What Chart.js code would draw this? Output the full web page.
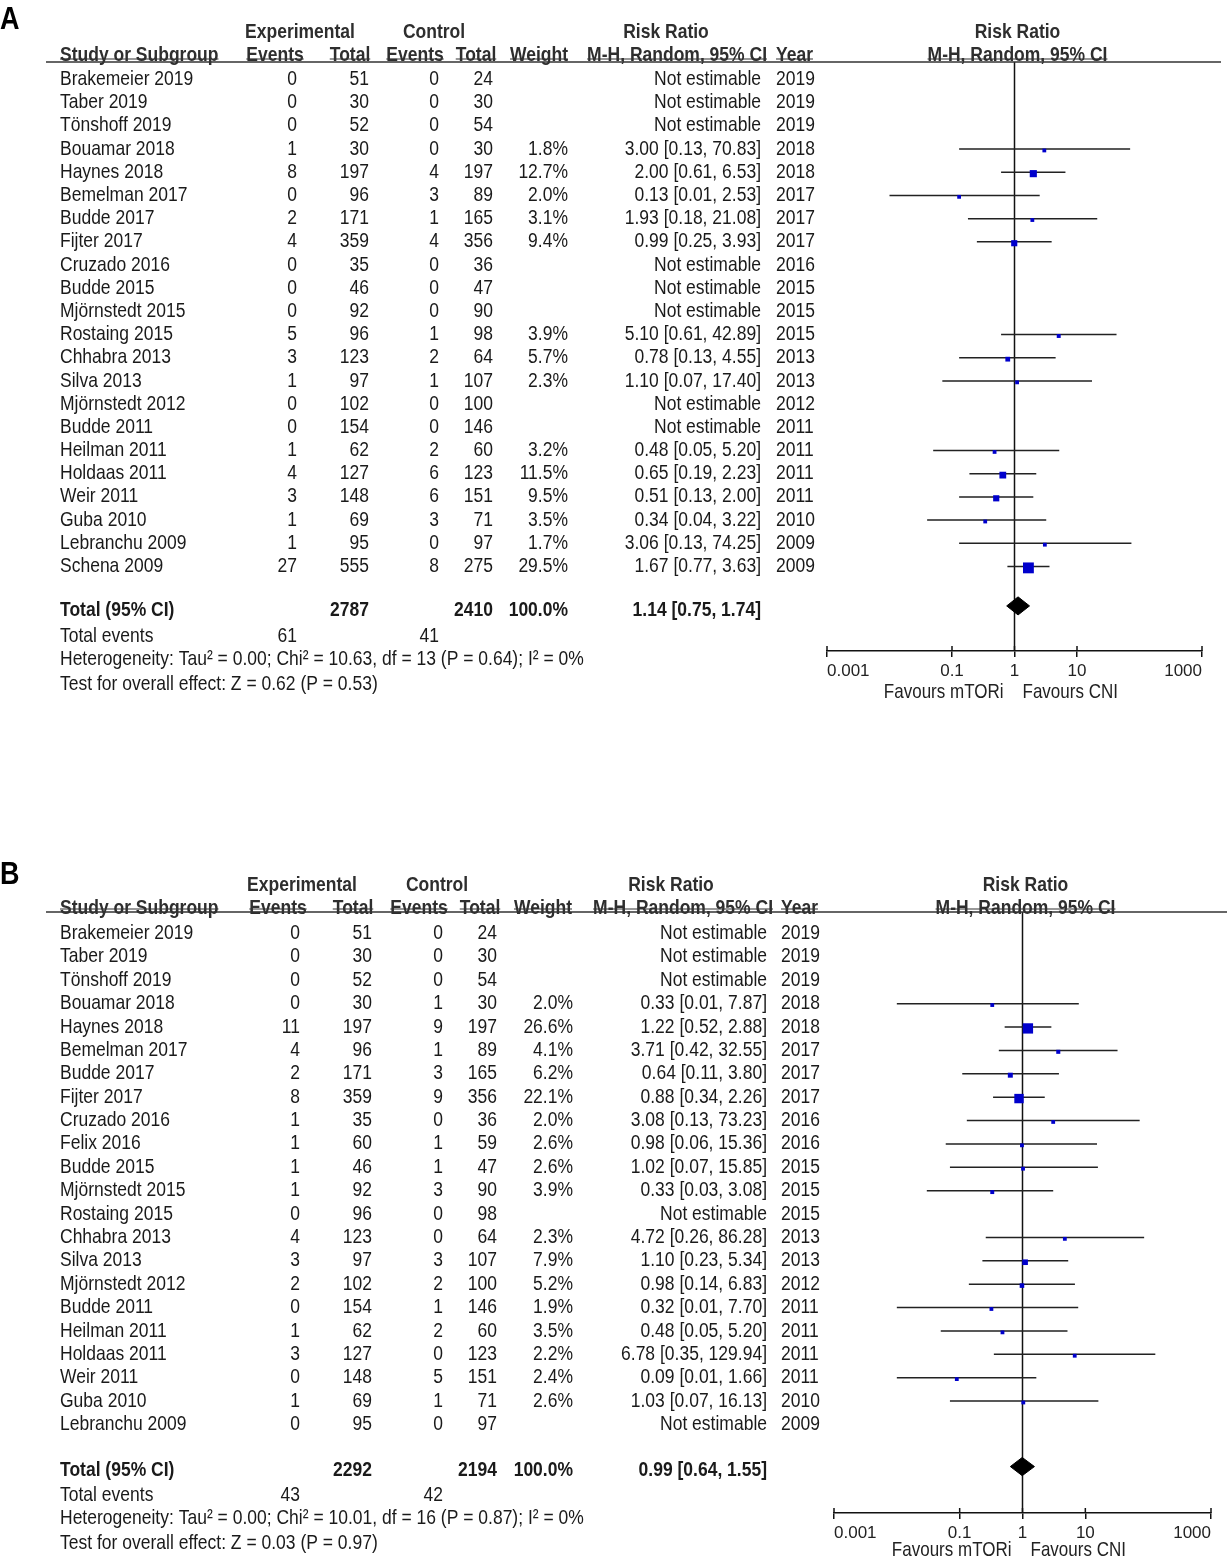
<!DOCTYPE html>
<html>
<head>
<meta charset="utf-8">
<script src="https://cdn.jsdelivr.net/npm/chart.js@4.4.0/dist/chart.umd.min.js"></script>
<style>
  html, body { margin: 0; padding: 0; background: #fff; }
  body { width: 1227px; height: 1558px; position: relative; overflow: hidden; }
  canvas { position: absolute; left: 0; }
  #chartA { top: 0; }
  #chartB { top: 860px; }
</style>
</head>
<body>
<canvas id="chartA" width="1227" height="860"></canvas>
<canvas id="chartB" width="1227" height="698"></canvas>
<script>
// ---- panel A data ----
const studiesA = ['Brakemeier 2019', 'Taber 2019', 'Tönshoff 2019', 'Bouamar 2018', 'Haynes 2018', 'Bemelman 2017',
  'Budde 2017', 'Fijter 2017', 'Cruzado 2016', 'Budde 2015', 'Mjörnstedt 2015', 'Rostaing 2015', 'Chhabra 2013',
  'Silva 2013', 'Mjörnstedt 2012', 'Budde 2011', 'Heilman 2011', 'Holdaas 2011', 'Weir 2011', 'Guba 2010',
  'Lebranchu 2009', 'Schena 2009'];
const expEventsA = [0, 0, 0, 1, 8, 0, 2, 4, 0, 0, 0, 5, 3, 1, 0, 0, 1, 4, 3, 1, 1, 27];
const expTotalA = [51, 30, 52, 30, 197, 96, 171, 359, 35, 46, 92, 96, 123, 97, 102, 154, 62, 127, 148, 69, 95, 555];
const ctlEventsA = [0, 0, 0, 0, 4, 3, 1, 4, 0, 0, 0, 1, 2, 1, 0, 0, 2, 6, 6, 3, 0, 8];
const ctlTotalA = [24, 30, 54, 30, 197, 89, 165, 356, 36, 47, 90, 98, 64, 107, 100, 146, 60, 123, 151, 71, 97, 275];
const weightA = [null, null, null, 1.8, 12.7, 2.0, 3.1, 9.4, null, null, null, 3.9, 5.7, 2.3, null, null, 3.2, 11.5, 9.5, 3.5, 1.7, 29.5];
const rrA = [null, null, null, 3.00, 2.00, 0.13, 1.93, 0.99, null, null, null, 5.10, 0.78, 1.10, null, null, 0.48, 0.65, 0.51, 0.34, 3.06, 1.67];
const loA = [null, null, null, 0.13, 0.61, 0.01, 0.18, 0.25, null, null, null, 0.61, 0.13, 0.07, null, null, 0.05, 0.19, 0.13, 0.04, 0.13, 0.77];
const hiA = [null, null, null, 70.83, 6.53, 2.53, 21.08, 3.93, null, null, null, 42.89, 4.55, 17.40, null, null, 5.20, 2.23, 2.00, 3.22, 74.25, 3.63];
const yearA = [2019, 2019, 2019, 2018, 2018, 2017, 2017, 2017, 2016, 2015, 2015, 2015, 2013, 2013, 2012, 2011, 2011, 2011, 2011, 2010, 2009, 2009];
const totalsA = [2787, 2410];
const totalEventsA = [61, 41];
const pooledA = [1.14, 0.75, 1.74];
const hetA = 'Heterogeneity: Tau² = 0.00; Chi² = 10.63, df = 13 (P = 0.64); I² = 0%';
const effectA = 'Test for overall effect: Z = 0.62 (P = 0.53)';

// ---- panel B data ----
const studiesB = ['Brakemeier 2019', 'Taber 2019', 'Tönshoff 2019', 'Bouamar 2018', 'Haynes 2018', 'Bemelman 2017',
  'Budde 2017', 'Fijter 2017', 'Cruzado 2016', 'Felix 2016', 'Budde 2015', 'Mjörnstedt 2015', 'Rostaing 2015',
  'Chhabra 2013', 'Silva 2013', 'Mjörnstedt 2012', 'Budde 2011', 'Heilman 2011', 'Holdaas 2011', 'Weir 2011',
  'Guba 2010', 'Lebranchu 2009'];
const expEventsB = [0, 0, 0, 0, 11, 4, 2, 8, 1, 1, 1, 1, 0, 4, 3, 2, 0, 1, 3, 0, 1, 0];
const expTotalB = [51, 30, 52, 30, 197, 96, 171, 359, 35, 60, 46, 92, 96, 123, 97, 102, 154, 62, 127, 148, 69, 95];
const ctlEventsB = [0, 0, 0, 1, 9, 1, 3, 9, 0, 1, 1, 3, 0, 0, 3, 2, 1, 2, 0, 5, 1, 0];
const ctlTotalB = [24, 30, 54, 30, 197, 89, 165, 356, 36, 59, 47, 90, 98, 64, 107, 100, 146, 60, 123, 151, 71, 97];
const weightB = [null, null, null, 2.0, 26.6, 4.1, 6.2, 22.1, 2.0, 2.6, 2.6, 3.9, null, 2.3, 7.9, 5.2, 1.9, 3.5, 2.2, 2.4, 2.6, null];
const rrB = [null, null, null, 0.33, 1.22, 3.71, 0.64, 0.88, 3.08, 0.98, 1.02, 0.33, null, 4.72, 1.10, 0.98, 0.32, 0.48, 6.78, 0.09, 1.03, null];
const loB = [null, null, null, 0.01, 0.52, 0.42, 0.11, 0.34, 0.13, 0.06, 0.07, 0.03, null, 0.26, 0.23, 0.14, 0.01, 0.05, 0.35, 0.01, 0.07, null];
const hiB = [null, null, null, 7.87, 2.88, 32.55, 3.80, 2.26, 73.23, 15.36, 15.85, 3.08, null, 86.28, 5.34, 6.83, 7.70, 5.20, 129.94, 1.66, 16.13, null];
const yearB = [2019, 2019, 2019, 2018, 2018, 2017, 2017, 2017, 2016, 2016, 2015, 2015, 2015, 2013, 2013, 2012, 2011, 2011, 2011, 2011, 2010, 2009];
const totalsB = [2292, 2194];
const totalEventsB = [43, 42];
const pooledB = [0.99, 0.64, 1.55];
const hetB = 'Heterogeneity: Tau² = 0.00; Chi² = 10.01, df = 16 (P = 0.87); I² = 0%';
const effectB = 'Test for overall effect: Z = 0.03 (P = 0.97)';

const xTicks = [0.001, 0.1, 1, 10, 1000];

const FONT = '"Liberation Sans", Arial, Helvetica, sans-serif';
const FONT_SIZE = 17.5;
const STRETCH = 1.15;   // text in the figure is a bit taller than Arial
const BLUE = '#0000cc';

function fmtRR(v, lo, hi) {
  if (v === null) return 'Not estimable';
  return v.toFixed(2) + ' [' + lo.toFixed(2) + ', ' + hi.toFixed(2) + ']';
}

function buildPanel(p) {
  const n = p.studies.length;
  const ciData = [];
  const sqData = [];
  const sqRadius = [];
  for (let i = 0; i < n; i++) {
    if (p.rr[i] === null) continue;
    ciData.push({ x: p.lo[i], y: i }, { x: p.hi[i], y: i }, { x: p.hi[i], y: null });
    sqData.push({ x: p.rr[i], y: i + 0.06 });
    // square area follows the study weight
    const side = Math.max(3.8, 2.0 * Math.sqrt(p.weight[i]));
    sqRadius.push(side / Math.SQRT2);
  }
  const L = p.layout;
  const dh = 0.39;
  const dRow = L.diamondRow;
  const diamond = [
    { x: p.pooled[1], y: dRow }, { x: p.pooled[0], y: dRow - dh },
    { x: p.pooled[2], y: dRow }, { x: p.pooled[0], y: dRow + dh },
    { x: p.pooled[1], y: dRow }
  ];

  const c = p.cols;
  const decor = {
    id: 'forest' + p.name,
    beforeDatasetsDraw(chart) {
      const { ctx, chartArea, scales: { x } } = chart;
      const x1 = x.getPixelForValue(1);
      ctx.save();
      ctx.strokeStyle = '#111';
      ctx.lineWidth = 1.5;
      ctx.beginPath();
      ctx.moveTo(x1, chartArea.top);
      ctx.lineTo(x1, chartArea.bottom);
      ctx.stroke();
      ctx.restore();
    },
    afterDraw(chart) {
      const { ctx, chartArea, scales: { x, y } } = chart;
      const put = (str, px, row, align, bold, color, size) => {
        const py = typeof row === 'number' ? y.getPixelForValue(row) : row.px;
        ctx.save();
        ctx.font = (bold ? 'bold ' : '') + (size || FONT_SIZE) + 'px ' + FONT;
        const w = ctx.measureText(str).width;
        ctx.translate(px, py);
        ctx.scale(1, STRETCH);
        ctx.fillStyle = color || '#1a1a1a';
        ctx.textAlign = align;
        ctx.textBaseline = 'middle';
        ctx.fillText(str, 0, 0);
        ctx.restore();
        return w;
      };
      const HEAD = '#2e2e2e';
      const underline = (x0, w) => {
        ctx.save();
        ctx.strokeStyle = '#333';
        ctx.lineWidth = 1.2;
        ctx.beginPath();
        ctx.moveTo(x0, chartArea.top - 3);
        ctx.lineTo(x0 + w, chartArea.top - 3);
        ctx.stroke();
        ctx.restore();
      };

      // panel letter
      put(p.name, 0, L.labelRow, 'left', true, '#000', 27);

      // header
      const h1 = L.head1, h2 = L.head2;
      put('Experimental', c.hExp, h1, 'center', true, HEAD);
      put('Control', c.hCtl, h1, 'center', true, HEAD);
      put('Risk Ratio', c.hRR, h1, 'center', true, HEAD);
      const plotMid = (chartArea.left + chartArea.right) / 2 + 3;
      put('Risk Ratio', plotMid, h1, 'center', true, HEAD);

      let w;
      w = put('Study or Subgroup', c.study, h2, 'left', true, HEAD); underline(c.study, w);
      w = put('Events', c.hEv1, h2, 'center', true, HEAD); underline(c.hEv1 - w / 2, w);
      w = put('Total', c.hTot1, h2, 'center', true, HEAD); underline(c.hTot1 - w / 2, w);
      w = put('Events', c.hEv2, h2, 'center', true, HEAD); underline(c.hEv2 - w / 2, w);
      w = put('Total', c.hTot2, h2, 'center', true, HEAD); underline(c.hTot2 - w / 2, w);
      w = put('Weight', c.hW, h2, 'center', true, HEAD); underline(c.hW - w / 2, w);
      w = put('M-H, Random, 95% CI', c.hMH, h2, 'right', true, HEAD); underline(c.hMH - w, w);
      w = put('Year', c.hYear, h2, 'left', true, HEAD); underline(c.hYear, w);
      w = put('M-H, Random, 95% CI', plotMid, h2, 'center', true, HEAD); underline(plotMid - w / 2, w);

      // rule under header
      ctx.save();
      ctx.strokeStyle = '#333';
      ctx.lineWidth = 1.4;
      ctx.beginPath();
      ctx.moveTo(L.ruleFrom, chartArea.top);
      ctx.lineTo(L.ruleTo, chartArea.top);
      ctx.stroke();
      ctx.restore();

      // study rows
      for (let i = 0; i < p.studies.length; i++) {
        put(p.studies[i], c.study, i, 'left');
        put(String(p.expEvents[i]), c.ev1, i, 'right');
        put(String(p.expTotal[i]), c.tot1, i, 'right');
        put(String(p.ctlEvents[i]), c.ev2, i, 'right');
        put(String(p.ctlTotal[i]), c.tot2, i, 'right');
        if (p.weight[i] !== null) put(p.weight[i].toFixed(1) + '%', c.w, i, 'right');
        put(fmtRR(p.rr[i], p.lo[i], p.hi[i]), c.rr, i, 'right');
        put(String(p.year[i]), c.year, i, 'left');
      }

      // totals
      const tRow = L.totalRow;
      put('Total (95% CI)', c.study, tRow, 'left', true);
      put(String(p.totals[0]), c.tot1, tRow, 'right', true);
      put(String(p.totals[1]), c.tot2, tRow, 'right', true);
      put('100.0%', c.w, tRow, 'right', true);
      put(fmtRR(p.pooled[0], p.pooled[1], p.pooled[2]), c.rr, tRow, 'right', true);
      put('Total events', c.study, L.eventsRow, 'left');
      put(String(p.totalEvents[0]), c.ev1, L.eventsRow, 'right');
      put(String(p.totalEvents[1]), c.ev2, L.eventsRow, 'right');
      put(p.het, c.study, L.hetRow, 'left');
      put(p.effect, c.study, L.effectRow, 'left');

      // upper half of the axis ticks
      ctx.save();
      ctx.strokeStyle = '#111';
      ctx.lineWidth = 1.5;
      x.ticks.forEach(t => {
        const px = x.getPixelForValue(t.value);
        ctx.beginPath();
        ctx.moveTo(px, chartArea.bottom - 5);
        ctx.lineTo(px, chartArea.bottom);
        ctx.stroke();
      });
      ctx.restore();

      // favours labels
      const x1 = x.getPixelForValue(1);
      const fy = { px: chartArea.bottom + L.favoursOffset };
      put('Favours mTORi', x1 - 11, fy, 'right', false, '#222', 17);
      put('Favours CNI', x1 + 8, fy, 'left', false, '#222', 17);
    }
  };

  const canvas = document.getElementById(p.canvas);
  const H = canvas.height;
  const axisH = 40;
  return new Chart(canvas, {
    type: 'scatter',
    data: {
      datasets: [
        {
          type: 'line',
          data: ciData,
          showLine: true,
          spanGaps: false,
          borderColor: '#222',
          borderWidth: 1.5,
          pointRadius: 0,
          pointHoverRadius: 0,
          order: 3
        },
        {
          data: sqData,
          pointStyle: 'rect',
          pointRadius: sqRadius,
          pointHoverRadius: sqRadius,
          backgroundColor: BLUE,
          borderColor: BLUE,
          borderWidth: 0,
          order: 2
        },
        {
          type: 'line',
          data: diamond,
          showLine: true,
          fill: 'shape',
          tension: 0,
          backgroundColor: '#000',
          borderColor: '#000',
          borderWidth: 1,
          pointRadius: 0,
          pointHoverRadius: 0,
          order: 1
        }
      ]
    },
    options: {
      responsive: false,
      animation: false,
      events: [],
      layout: {
        padding: {
          left: L.plotLeft,
          right: 1227 - L.plotRight,
          top: L.top - L.canvasTop,
          bottom: H - (L.bottom - L.canvasTop) - axisH
        }
      },
      plugins: {
        legend: { display: false },
        tooltip: { enabled: false }
      },
      scales: {
        x: {
          type: 'logarithmic',
          min: 0.001,
          max: 1000,
          afterBuildTicks: s => { s.ticks = xTicks.map(v => ({ value: v })); },
          afterFit: s => { s.height = axisH; },
          grid: { drawOnChartArea: false, drawTicks: true, tickLength: 6, color: '#111', lineWidth: 1.5 },
          border: { display: true, color: '#111', width: 1.5 },
          ticks: {
            align: 'inner',
            autoSkip: false,
            maxRotation: 0,
            padding: 4,
            color: '#222',
            font: { family: FONT, size: 17 },
            callback: v => String(v)
          }
        },
        y: {
          type: 'linear',
          display: false,
          reverse: true,
          min: -(L.row0 - L.top) / L.pitch,
          max: (L.bottom - L.row0) / L.pitch
        }
      }
    },
    plugins: [decor]
  });
}

buildPanel({
  name: 'A', canvas: 'chartA',
  studies: studiesA, expEvents: expEventsA, expTotal: expTotalA, ctlEvents: ctlEventsA, ctlTotal: ctlTotalA,
  weight: weightA, rr: rrA, lo: loA, hi: hiA, year: yearA,
  totals: totalsA, totalEvents: totalEventsA, pooled: pooledA, het: hetA, effect: effectA,
  layout: {
    canvasTop: 0, plotLeft: 827, plotRight: 1202, top: 62, bottom: 651, row0: 79.5, pitch: 23.19,
    ruleFrom: 46, ruleTo: 1221, labelRow: -2.55, head1: -2.05, head2: -1.03,
    diamondRow: 22.7, totalRow: 22.88, eventsRow: 24.0, hetRow: 25.03, effectRow: 26.07, favoursOffset: 42
  },
  cols: {
    study: 60, ev1: 297, tot1: 369, ev2: 439, tot2: 493, w: 568, rr: 761, year: 776,
    hExp: 300, hCtl: 434, hRR: 666, hEv1: 275, hTot1: 350, hEv2: 415, hTot2: 476, hW: 539, hMH: 767, hYear: 776
  }
});

buildPanel({
  name: 'B', canvas: 'chartB',
  studies: studiesB, expEvents: expEventsB, expTotal: expTotalB, ctlEvents: ctlEventsB, ctlTotal: ctlTotalB,
  weight: weightB, rr: rrB, lo: loB, hi: hiB, year: yearB,
  totals: totalsB, totalEvents: totalEventsB, pooled: pooledB, het: hetB, effect: effectB,
  layout: {
    canvasTop: 860, plotLeft: 834, plotRight: 1211, top: 912, bottom: 1513, row0: 933.5, pitch: 23.38,
    ruleFrom: 46, ruleTo: 1227, labelRow: -2.5, head1: -2.07, head2: -1.08,
    diamondRow: 22.8, totalRow: 22.95, eventsRow: 24.05, hetRow: 25.03, effectRow: 26.07, favoursOffset: 38
  },
  cols: {
    study: 60, ev1: 300, tot1: 372, ev2: 443, tot2: 497, w: 573, rr: 767, year: 781,
    hExp: 302, hCtl: 437, hRR: 671, hEv1: 278, hTot1: 353, hEv2: 419, hTot2: 480, hW: 543, hMH: 773, hYear: 781
  }
});
</script>
</body>
</html>
